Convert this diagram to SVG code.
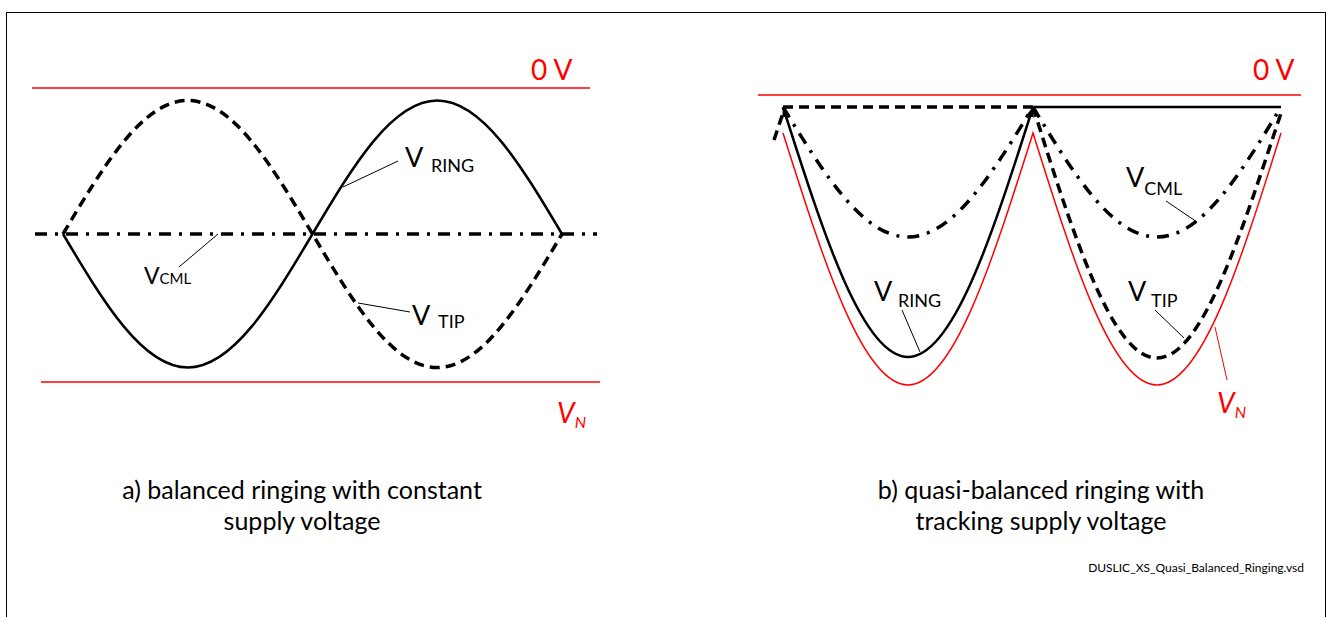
<svg xmlns="http://www.w3.org/2000/svg" width="1331" height="617" viewBox="0 0 1331 617">
<style>
text{font-family:Lato,"Liberation Sans",sans-serif;fill:#000}
.red{stroke:#ff0000;stroke-width:1.5;fill:none}
.redt{fill:#ff0000}
.solid{stroke:#000;stroke-width:2.5;fill:none}
.dash{stroke:#000;stroke-width:3.5;fill:none;stroke-dasharray:10 6}
.dd{stroke:#000;stroke-width:3.5;fill:none;stroke-dasharray:12 8 3 8}
.lead{stroke:#000;stroke-width:1;fill:none}
.big{font-size:27px}
.sub{font-size:18px}
.cap{font-size:25px;text-anchor:middle}
.zero{font-size:28px;fill:#ff0000}
</style>
<defs>
<marker id="ah" markerUnits="userSpaceOnUse" markerWidth="12" markerHeight="10" refX="10" refY="4" orient="auto-start-reverse">
<path d="M0,0 L10,4 L0,8 z" fill="#000"/>
</marker>
</defs>
<rect x="6.5" y="12.5" width="1319" height="620" fill="none" stroke="#000" stroke-width="1"/>

<g id="panel-a">
<line class="red" x1="32" y1="88" x2="590" y2="88"/>
<line class="red" x1="41" y1="382" x2="600" y2="382"/>
<text x="531" y="80" class="zero">0 V</text>
<text x="557" y="423" class="redt" font-size="28" font-style="italic">V<tspan font-size="16" dy="5">N</tspan></text>
<line class="dd" x1="35" y1="234" x2="597" y2="234"/>
<path class="solid" d="M63,234 C103.7,302.4 142.6,367.5 187.75,367.5 C232.9,367.5 271.8,302.4 312.5,234 C353.2,165.6 392.1,100.5 437.25,100.5 C482.4,100.5 521.3,165.6 562,234"/>
<path class="dash" d="M63,234 C103.7,165.6 142.6,100.5 187.75,100.5 C232.9,100.5 271.8,165.6 312.5,234 C353.2,302.4 392.1,367.5 437.25,367.5 C482.4,367.5 521.3,302.4 562,234"/>
<line class="lead" x1="398" y1="161" x2="343" y2="187"/>
<text x="405" y="167" class="big">V</text>
<text x="431" y="172" class="sub">RING</text>
<line class="lead" x1="179" y1="267" x2="218" y2="234"/>
<text x="144" y="284" font-size="23">V<tspan font-size="15">CML</tspan></text>
<line class="lead" x1="410" y1="312" x2="358" y2="303"/>
<text x="412" y="325" class="big">V</text>
<text x="438" y="328" class="sub">TIP</text>
<text x="302" y="499" class="cap">a) balanced ringing with constant</text>
<text x="302" y="530" class="cap">supply voltage</text>
</g>

<g id="panel-b">
<line class="red" x1="758" y1="95" x2="1301" y2="95"/>
<text x="1253" y="80" class="zero">0 V</text>
<path class="red" d="M783,133 C823.8,262.1 862.8,385 908,385 C953.2,385 992.2,262.1 1033,133 C1073.4,262.1 1112.1,385 1157,385 C1201.9,385 1240.6,262.1 1281,133"/>
<line class="dash" x1="783" y1="107" x2="1033" y2="107"/>
<line class="solid" x1="1033" y1="107" x2="1281" y2="107"/>
<path class="dash" d="M774,140 L785,107"/>
<path class="solid" marker-start="url(#ah)" marker-end="url(#ah)" d="M783,107 C823.8,235.1 862.8,357 908,357 C953.2,357 992.2,235.1 1033,107"/>
<path class="dd" d="M783,107 C823.8,173.6 862.8,237 908,237 C953.2,237 992.2,173.6 1033,107"/>
<path class="dash" d="M1033,107 C1073.4,235.6 1112.1,358 1157,358 C1201.9,358 1240.6,235.6 1282,110"/>
<path class="dd" d="M1033,107 C1073.4,173.6 1112.1,237 1157,237 C1201.9,237 1240.6,173.6 1281,107"/>
<line class="lead" x1="902" y1="310" x2="920" y2="352"/>
<text x="874" y="301" class="big">V</text>
<text x="898" y="307" class="sub">RING</text>
<line class="lead" x1="1166" y1="201" x2="1197" y2="222"/>
<text x="1126" y="187" class="big">V<tspan class="sub" dy="8">CML</tspan></text>
<line class="lead" x1="1155" y1="310" x2="1184" y2="338"/>
<text x="1128" y="301" class="big">V</text>
<text x="1151" y="307" class="sub">TIP</text>
<line x1="1215" y1="327" x2="1227" y2="380" stroke="#ff0000" stroke-width="1"/>
<text x="1217" y="413" class="redt" font-size="28" font-style="italic">V<tspan font-size="16" dy="5">N</tspan></text>
<text x="1041" y="499" class="cap">b) quasi-balanced ringing with</text>
<text x="1041" y="530" class="cap">tracking supply voltage</text>
<text x="1304" y="572" font-size="12" text-anchor="end">DUSLIC_XS_Quasi_Balanced_Ringing.vsd</text>
</g>
</svg>
